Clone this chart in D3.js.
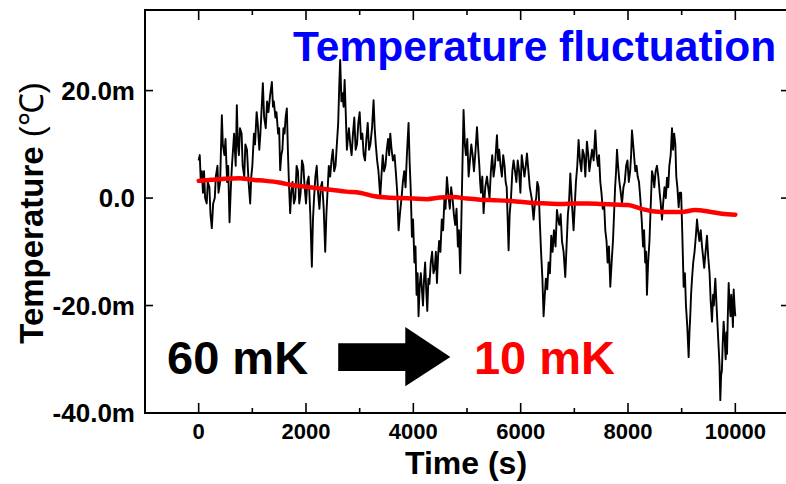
<!DOCTYPE html>
<html>
<head>
<meta charset="utf-8">
<script src="https://cdn.jsdelivr.net/npm/d3@7"></script>
<style>
  body { margin: 0; background: #fff; }
  svg { display: block; }
  text { font-family: "Liberation Sans", Arial, Helvetica, sans-serif; font-weight: bold; }
</style>
</head>
<body>
<svg id="chart" width="786" height="484"></svg>
<script>
// Axis ticks
const xMajorTicks = [0, 2000, 4000, 6000, 8000, 10000];
const xMinorTicks = [1000, 3000, 5000, 7000, 9000];
const yTicks = [20, 0, -20, -40];
const yTickLabels = ["20.0m", "0.0", "-20.0m", "-40.0m"];

// Controlled stage temperature deviation (mK) vs time (s)
const redSeries = [
  [0, 3.2], [250, 3.4], [500, 3.6], [750, 3.7], [1000, 3.4], [1250, 3.2], [1500, 2.9],
  [1750, 2.4], [2000, 2.1], [2250, 1.8], [2500, 1.5], [2750, 1.2], [3000, 1.0], [3250, 0.4],
  [3500, 0.1], [3750, 0.0], [4000, -0.1], [4250, -0.2], [4500, 0.1], [4750, 0.2], [5000, -0.1],
  [5250, -0.3], [5500, -0.4], [5750, -0.5], [6000, -0.7], [6250, -0.9], [6500, -1.0],
  [6750, -1.1], [7000, -1.0], [7250, -1.0], [7500, -1.1], [7750, -1.2], [8000, -1.3],
  [8250, -2.0], [8500, -2.5], [8750, -2.6], [9000, -2.6], [9250, -2.2], [9500, -2.5],
  [9750, -2.9], [10000, -3.1]
];

// Uncontrolled temperature deviation (mK) vs time (s)
const blackSeries = [
  [0,7],[20,8],[40,3],[60,5],[80,1],[100,5],[120,0],[150,-1],[170,3],[200,2],[220,-3],[245,-5.6],
  [270,-1],[300,0],[320,4],[350,6],[370,1],[400,3],[432,15.4],[450,10],[480,8],[500,11],[530,3],
  [550,6],[575,-4.5],[600,2],[620,6],[640,9],[660,12],[690,6],[711,17.3],[730,10],[750,8],[770,13],
  [800,12],[820,6],[850,4],[870,10],[900,9],[930,3],[960,-1],[980,4],[1000,6],[1030,12],[1050,10],
  [1080,16],[1100,14],[1130,9],[1150,12],[1175,17],[1196,21.4],[1220,15],[1250,13],[1275,18],
  [1300,16],[1330,19],[1364,21.6],[1385,17],[1400,18],[1430,15],[1450,16],[1480,12],[1500,13],
  [1519,5.2],[1540,8],[1560,9],[1580,13],[1600,12],[1620,15],[1643,16.7],[1665,8],[1685,2],
  [1705,-2.8],[1725,1],[1750,3],[1775,-1],[1800,0],[1825,6],[1850,5],[1875,-1],[1900,1],[1925,7],
  [1950,6],[1975,2],[2000,-1],[2025,3],[2050,4],[2080,-3],[2109,-12.8],[2130,-4],[2150,0],[2175,4],
  [2200,6],[2225,1],[2250,-2],[2275,2],[2300,3],[2330,-2],[2358,-10],[2380,-3],[2400,1],[2425,6],
  [2450,4],[2475,7],[2500,9],[2525,5],[2550,6],[2575,10],[2600,14],[2620,21],[2637,25.7],[2660,18],
  [2680,19.5],[2700,17],[2720,22],[2740,16],[2762,9],[2780,11],[2800,13],[2825,10],[2850,8],
  [2875,12],[2900,15],[2925,9],[2950,10],[2975,14],[3000,16],[3025,11],[3050,12],[3075,8],[3100,7],
  [3125,11],[3150,14],[3175,9],[3200,10],[3230,13],[3259,18.2],[3280,13],[3300,10],[3325,7],
  [3350,5],[3383,0.2],[3405,4],[3430,8],[3455,5],[3480,6],[3505,9],[3530,11],[3550,8],[3570,12],
  [3595,9],[3620,7],[3650,8],[3680,4],[3700,1],[3725,-6],[3750,-3],[3780,0],[3805,3],[3830,5],
  [3855,2],[3880,8],[3911,14],[3930,7],[3950,2],[3974,-7.2],[3995,-4],[4020,-12],[4040,-9],
  [4060,-18],[4080,-14],[4097,-22],[4120,-16],[4140,-14],[4160,-17],[4180,-20],[4200,-15],
  [4220,-12],[4240,-17],[4260,-21],[4280,-15],[4300,-16],[4325,-12],[4350,-10],[4375,-14],
  [4400,-13],[4420,-10],[4440,-15.8],[4460,-11],[4480,-8],[4505,-10],[4530,-4],[4555,-6],[4580,0],
  [4600,-2],[4626,3.9],[4650,1],[4680,-2],[4705,2],[4730,0],[4755,-3],[4780,-5],[4805,-2],[4830,-9],
  [4850,-6],[4874,-14],[4895,-4],[4915,6],[4936,16.4],[4960,10],[4980,8],[5005,11],[5030,4],
  [5055,7],[5080,10],[5105,8],[5130,5],[5160,9],[5186,13.2],[5210,9],[5230,6],[5245,3],[5260,1],
  [5285,4],[5309,-2.8],[5340,2],[5372,4],[5395,2],[5420,0],[5445,5],[5470,8],[5495,4],[5520,6],
  [5540,9],[5558,11.7],[5580,7],[5600,9],[5625,6],[5650,4],[5675,8],[5700,6],[5720,3],[5740,2],
  [5758,-4],[5775,-9.7],[5795,-3],[5820,0],[5845,5],[5868,7],[5895,5],[5920,3],[5945,7],[5970,5],
  [5995,1],[6020,8],[6045,6],[6070,4],[6095,6],[6117,8.3],[6145,5],[6170,2],[6205,0],[6241,-4],
  [6265,-1],[6290,0],[6310,3],[6334,2],[6355,-4],[6380,-10],[6405,-15],[6427,-22],[6450,-18],
  [6470,-15],[6495,-17],[6520,-12],[6545,-14],[6570,-7],[6595,-10],[6620,-6],[6650,-9],
  [6676,-2.2],[6700,-4],[6720,-5],[6745,-3],[6770,-8],[6800,-10],[6831,-14.7],[6855,-9],[6880,-3],
  [6900,-1],[6925,4.6],[6955,-1],[6986,-6],[7005,-2],[7030,3],[7055,6],[7079,10.8],[7105,7],
  [7130,5],[7155,9],[7180,8],[7205,4],[7235,10.5],[7260,8],[7280,5],[7305,7],[7330,9],[7360,7],
  [7391,12.6],[7415,8],[7440,6],[7460,8],[7484,3],[7505,1],[7530,-2],[7555,-1],[7577,-6],[7600,-8],
  [7620,-12],[7645,-9],[7670,-16.5],[7695,-12],[7720,-8],[7740,-3],[7760,2],[7778,5],[7795,9],
  [7815,6],[7840,3],[7865,1],[7888,-1],[7915,2],[7940,3],[7965,6],[7990,7],[8015,3],[8040,5],
  [8058,8],[8074,12.6],[8105,9],[8136,5],[8160,6],[8180,4],[8205,3],[8229,0],[8255,-4],[8280,-9],
  [8300,-6],[8320,-12],[8338,-10],[8353,-18],[8375,-12],[8400,-8],[8425,-1],[8447,5],[8470,4],
  [8490,2],[8515,5],[8540,6],[8565,4],[8590,1],[8610,-1],[8633,-4],[8655,-1],[8680,2],[8705,0],
  [8727,3.8],[8750,2],[8770,6],[8795,8],[8820,13],[8840,9],[8860,12],[8882,10],[8900,4],[8920,2],
  [8944,-1.7],[8965,1],[8990,1],[9010,-6],[9037,-16.5],[9060,-14],[9080,-20],[9105,-24],
  [9130,-29.6],[9145,-25],[9160,-22],[9175,-18],[9193,-15],[9215,-12],[9240,-10],[9265,-7],
  [9286,-4],[9305,-6],[9330,-8],[9355,-6],[9379,-9],[9400,-11],[9420,-13],[9445,-10],[9472,-7],
  [9495,-11],[9520,-14],[9540,-19],[9565,-23],[9585,-18],[9600,-20],[9615,-17],[9627,-15],
  [9650,-20],[9670,-24],[9690,-28],[9705,-31],[9720,-37.6],[9735,-33],[9750,-32],[9765,-27],
  [9782,-23],[9800,-26],[9820,-30],[9835,-25],[9845,-29],[9860,-22],[9876,-15.8],[9890,-19],
  [9910,-22],[9925,-18],[9938,-20],[9955,-24],[9969,-17],[9985,-20],[10000,-22]
];

const svg = d3.select("#chart");
const plotLeft = 145, plotRight = 789, plotTop = 10, plotBottom = 413;

const x = d3.scaleLinear().domain([-1000, 11000]).range([plotLeft, plotRight]);
const y = d3.scaleLinear().domain([-40, 35]).range([plotBottom, plotTop]);

const line = d3.line().x(d => x(d[0])).y(d => y(d[1]));

// Data lines
svg.append("path")
  .datum(blackSeries)
  .attr("d", line)
  .attr("fill", "none")
  .attr("stroke", "#000")
  .attr("stroke-width", 1.9)
  .attr("stroke-linejoin", "round");

svg.append("path")
  .datum(redSeries)
  .attr("d", d3.line().x(d => x(d[0])).y(d => y(d[1])).curve(d3.curveMonotoneX))
  .attr("fill", "none")
  .attr("stroke", "#ff0000")
  .attr("stroke-width", 4.5)
  .attr("stroke-linecap", "round");

// Frame
svg.append("rect")
  .attr("x", plotLeft).attr("y", plotTop)
  .attr("width", plotRight - plotLeft).attr("height", plotBottom - plotTop)
  .attr("fill", "none").attr("stroke", "#000").attr("stroke-width", 2);

// Inward ticks on all four sides
const ticks = svg.append("g").attr("stroke", "#000").attr("stroke-width", 1.6);
xMajorTicks.forEach(t => {
  ticks.append("line").attr("x1", x(t)).attr("x2", x(t)).attr("y1", plotBottom).attr("y2", plotBottom - 10);
  ticks.append("line").attr("x1", x(t)).attr("x2", x(t)).attr("y1", plotTop).attr("y2", plotTop + 10);
});
xMinorTicks.forEach(t => {
  ticks.append("line").attr("x1", x(t)).attr("x2", x(t)).attr("y1", plotBottom).attr("y2", plotBottom - 5);
  ticks.append("line").attr("x1", x(t)).attr("x2", x(t)).attr("y1", plotTop).attr("y2", plotTop + 5);
});
yTicks.forEach(v => {
  ticks.append("line").attr("x1", plotLeft).attr("x2", plotLeft + 8).attr("y1", y(v)).attr("y2", y(v));
  ticks.append("line").attr("x1", plotRight).attr("x2", plotRight - 8).attr("y1", y(v)).attr("y2", y(v));
});

// Tick labels
svg.append("g").selectAll("text")
  .data(xMajorTicks).join("text")
  .attr("x", d => x(d)).attr("y", plotBottom + 26)
  .attr("text-anchor", "middle")
  .attr("font-size", 22)
  .text(d => d);

svg.append("g").selectAll("text")
  .data(yTicks).join("text")
  .attr("x", plotLeft - 10).attr("y", d => y(d) + 9)
  .attr("text-anchor", "end")
  .attr("font-size", 26)
  .text((d, i) => yTickLabels[i]);

// Axis titles
svg.append("text")
  .attr("x", 466).attr("y", 474)
  .attr("text-anchor", "middle")
  .attr("font-size", 32)
  .text("Time (s)");

const yTitle = svg.append("text")
  .attr("transform", "translate(43,213) rotate(-90)")
  .attr("text-anchor", "middle")
  .attr("font-size", 33);
yTitle.append("tspan").text("Temperature ");
yTitle.append("tspan").attr("font-weight", "normal").text("(℃)");

// Title
svg.append("text")
  .attr("x", 293).attr("y", 61)
  .attr("font-size", 42.5)
  .attr("fill", "#0000ff")
  .text("Temperature fluctuation");

// Annotation: 60 mK -> 10 mK
svg.append("text")
  .attr("x", x(-590)).attr("y", y(-32.8))
  .attr("font-size", 47)
  .attr("fill", "#000")
  .text("60 mK");

svg.append("text")
  .attr("x", x(5130)).attr("y", y(-32.8))
  .attr("font-size", 47)
  .attr("fill", "#ff0000")
  .text("10 mK");

const arrowPts = [
  [2600, -27.0], [3850, -27.0], [3850, -24.0], [4690, -29.6],
  [3850, -35.0], [3850, -32.2], [2600, -32.2]
];
svg.append("path")
  .attr("d", d3.line().x(d => x(d[0])).y(d => y(d[1]))(arrowPts) + "Z")
  .attr("fill", "#000");
</script>
</body>
</html>
